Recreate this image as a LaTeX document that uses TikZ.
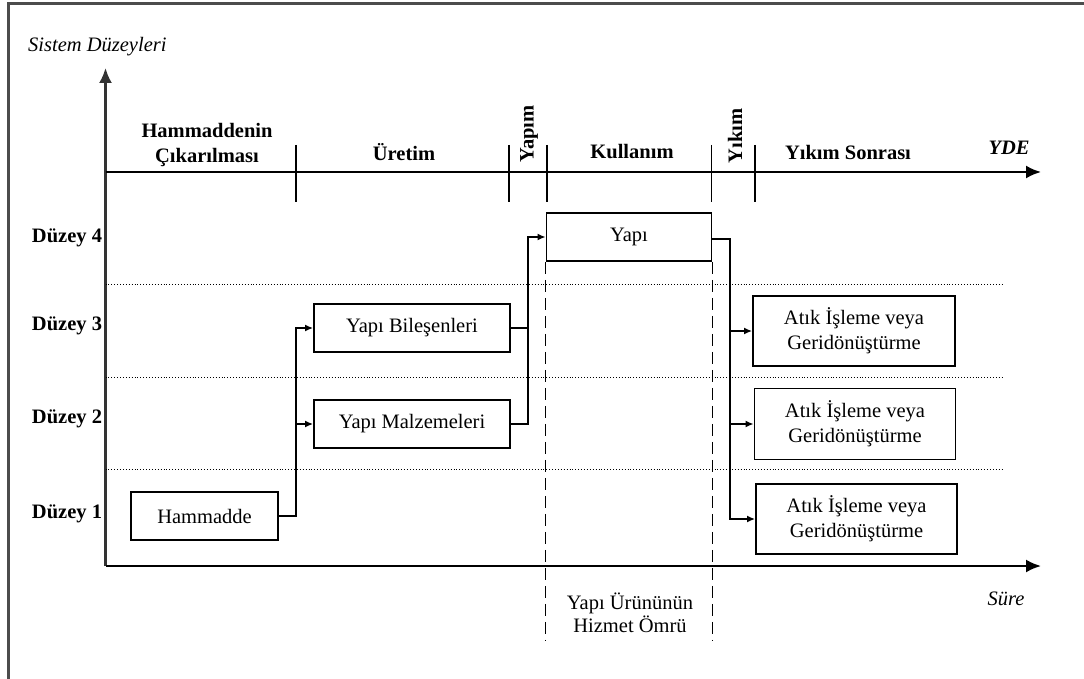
\documentclass[tikz,border=0pt]{standalone}
\usepackage{fontspec}
\setmainfont{Liberation Serif}
\usetikzlibrary{arrows.meta}
\begin{document}
\begin{tikzpicture}[x=1pt,y=-1pt,
  every node/.style={font=\fontsize{20.5}{25}\selectfont, inner sep=0pt},
  box/.style={draw, line width=1.8pt, align=center},
  lvl/.style={font=\fontsize{20.5}{25}\selectfont\bfseries},
  phase/.style={font=\fontsize{20.5}{25}\selectfont\bfseries, align=center},
  axislbl/.style={font=\fontsize{20.5}{25}\selectfont\itshape},
  axis/.style={line width=2.2pt, -{Latex[length=15pt,width=13pt]}},
  tickln/.style={line width=1.6pt},
  conn/.style={line width=1.6pt},
  arr/.style={conn, -{Latex[length=8pt,width=7pt]}},
  levelsep/.style={dotted, line width=0.9pt},
  life/.style={line width=1.6pt, dash pattern=on 12pt off 6pt}]
\useasboundingbox (0,0) rectangle (1084,679);

% frame (top and left edges)
\draw[line width=2.2pt, black!70] (8.5,679) -- (8.5,3.5) -- (1084,3.5);

% axes
\coordinate (origin) at (105.5,566);
\coordinate (ytop) at (105.5,68);
\coordinate (ydeend) at (1041,172);
\coordinate (sureend) at (1041,566);
\draw[axis, black!80] (origin) -- (ytop);
\draw[axis] (origin |- ydeend) -- (ydeend);
\draw[axis] (origin) -- (sureend);

\node[axislbl, anchor=west] (sd) at (28,47) {Sistem Düzeyleri};
\node[axislbl, font=\fontsize{20.5}{25}\selectfont\itshape\bfseries] (yde) at (1009,148) {YDE};
\node[axislbl] (sure) at (1006,599) {Süre};

% phase ticks on the YDE axis
\foreach \x in {296,509,547,711.5,755}
  \draw[tickln] (\x,145) -- (\x,202);

% phase labels
\node[phase] (p1) at (207,145) {Hammaddenin\\Çıkarılması};
\node[phase] (p2) at (404,152) {Üretim};
\node[phase, rotate=90] (p3) at (529,134) {Yapım};
\node[phase] (p4) at (632,152) {Kullanım};
\node[phase, rotate=90] (p5) at (735,136) {Yıkım};
\node[phase] (p6) at (848,152) {Yıkım Sonrası};

% level separators
\foreach \y in {284,377,469}
  \draw[levelsep] (105.5,\y) -- (1003,\y);

% level labels
\node[lvl] (d4) at (67,238) {Düzey 4};
\node[lvl] (d3) at (67,326) {Düzey 3};
\node[lvl] (d2) at (67,419) {Düzey 2};
\node[lvl] (d1) at (67,514) {Düzey 1};

% boxes
\node[box, minimum width=147pt, minimum height=48pt] (ham) at (204.5,516) {Hammadde};
\node[box, minimum width=196pt, minimum height=48pt] (bil) at (412,328) {Yapı Bileşenleri};
\node[box, minimum width=196pt, minimum height=48pt] (mal) at (412,424) {Yapı Malzemeleri};
\node[box, minimum width=165pt, minimum height=48pt] (yapi) at (629,237) {Yapı};
\node[box, minimum width=202pt, minimum height=70pt] (at1) at (854,331) {Atık İşleme veya\\Geridönüştürme};
\node[box, minimum width=201pt, minimum height=71pt] (at2) at (855,424) {Atık İşleme veya\\Geridönüştürme};
\node[box, minimum width=201pt, minimum height=70pt] (at3) at (856.5,519) {Atık İşleme veya\\Geridönüştürme};

% service life markers
\coordinate (lifeend) at (0,641);
\draw[life] (yapi.south west) -- (yapi.south west |- lifeend);
\draw[life] (yapi.south east) -- (yapi.south east |- lifeend);
\node[align=center, font=\fontsize{20.5}{23}\selectfont] (hizmet) at (630,613) {Yapı Ürününün\\Hizmet Ömrü};

% flow connectors
\coordinate (j1) at (296,0);
\coordinate (j2) at (528,0);
\coordinate (j3) at (730,0);
\draw[arr] (ham.east) -- (ham.east -| j1) |- (bil.west);
\draw[arr] (j1 |- mal.west) -- (mal.west);
\draw[conn] (bil.east) -- (bil.east -| j2);
\draw[arr] (mal.east) -- (mal.east -| j2) |- (yapi.west);
\draw[arr] ([yshift=-2pt]yapi.east) -- ([yshift=-2pt]yapi.east -| j3) |- (at3.west);
\draw[arr] (j3 |- at1.west) -- (at1.west);
\draw[arr] (j3 |- at2.west) -- (at2.west);
\end{tikzpicture}
\end{document}
